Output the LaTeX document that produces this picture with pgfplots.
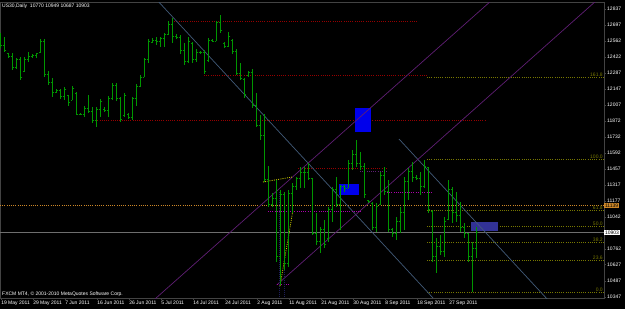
\documentclass[border=0pt]{standalone}
\usepackage{pgfplots}
\pgfplotsset{compat=1.18}
\usepackage{pgfplotstable}
\usepackage{fontspec}
\setmainfont{Liberation Sans}
\definecolor{barcol}{RGB}{0,150,0}
\definecolor{reddot}{RGB}{150,0,0}
\definecolor{slate}{RGB}{65,90,120}
\definecolor{purp}{RGB}{95,30,115}
\definecolor{magdot}{RGB}{170,0,170}
\definecolor{yeldot}{RGB}{200,200,0}
\definecolor{fibcol}{RGB}{120,120,0}
\definecolor{orgcol}{RGB}{205,135,40}
\definecolor{pricegray}{RGB}{110,110,110}
\definecolor{mtblue}{RGB}{0,0,235}
\definecolor{dimblue}{RGB}{50,50,150}
\definecolor{navydot}{RGB}{30,30,90}
\newcommand{\tf}{\fontsize{5}{5.5}\selectfont}

\pgfplotstableread{
i o h l c
0 12600 12630 12500 12520
1 12520 12595 12465 12480
2 12457 12457 12413 12430
3 12430 12457 12310 12330
4 12330 12413 12318 12400
5 12400 12422 12223 12250
6 12300 12422 12292 12400
7 12400 12465 12379 12430
8 12430 12448 12413 12440
9 12440 12457 12413 12450
10 12460 12578 12457 12560
11 12560 12578 12249 12270
12 12270 12301 12180 12200
13 12200 12240 12076 12120
14 12120 12145 12111 12130
15 12130 12145 12059 12080
16 12080 12163 12050 12140
17 12090 12093 11998 12030
18 12050 12171 12050 12150
19 12110 12119 11920 11930
20 11930 11938 11920 11925
21 11925 11998 11903 11980
22 11980 12093 11938 11950
23 11950 11990 11851 11870
24 11870 11990 11817 11970
25 11970 12059 11903 12040
26 11970 11990 11946 11960
27 11960 12085 11903 12060
28 12060 12197 12050 12180
29 12180 12197 12042 12060
30 12060 12076 11860 11880
31 11920 12111 11903 12090
32 11930 11938 11886 11900
33 11900 12076 11877 12060
34 12060 12189 11998 12170
35 12170 12266 12163 12250
36 12250 12413 12249 12400
37 12400 12578 12370 12560
38 12550 12586 12543 12570
39 12570 12595 12526 12560
40 12560 12595 12508 12580
41 12580 12630 12508 12620
42 12620 12733 12612 12700
43 12700 12759 12543 12600
44 12600 12621 12578 12590
45 12590 12612 12448 12480
46 12480 12543 12353 12380
47 12380 12595 12370 12560
48 12540 12552 12370 12400
49 12400 12491 12379 12460
50 12460 12474 12448 12460
51 12460 12482 12275 12300
52 12390 12586 12379 12570
53 12570 12578 12552 12560
54 12560 12733 12560 12720
55 12720 12785 12630 12650
56 12540 12552 12500 12510
57 12510 12638 12508 12600
58 12570 12578 12448 12470
59 12470 12491 12266 12280
60 12280 12370 12223 12240
61 12230 12240 12067 12100
62 12260 12301 12249 12290
63 12290 12318 11981 12000
64 12000 12111 11817 11830
65 11830 11920 11704 11740
66 11740 11929 11341 11360
67 11360 11480 11125 11150
68 11150 11246 11125 11200
69 11200 11358 10650 10700
70 10700 11272 10451 11230
71 11230 11255 10580 10640
72 10640 11272 10606 11240
73 11240 11333 11073 11300
74 11300 11385 11272 11370
75 11370 11471 11289 11420
76 11420 11471 11289 11420
77 11420 11505 11358 11370
78 11370 11376 10883 10900
79 10900 11073 10797 10830
80 10830 10952 10727 10930
81 10930 11013 10771 10800
82 10850 11125 10823 11100
83 11100 11298 10995 11280
84 11280 11385 11125 11150
85 11150 11315 10926 11300
86 11300 11315 11255 11290
87 11290 11531 11289 11500
88 11500 11618 11445 11580
89 11580 11704 11471 11500
90 11500 11601 11445 11480
91 11480 11505 11203 11230
92 11180 11186 11160 11170
93 11160 11168 10926 10950
94 10950 11160 10909 11130
95 11150 11428 11142 11400
96 11400 11471 11229 11260
97 11260 11358 10909 10930
98 10930 10944 10866 10900
99 10900 11039 10840 11000
100 11000 11125 10900 11080
101 11080 11385 10926 11350
102 11350 11462 11186 11430
103 11430 11514 11341 11380
104 11380 11402 11358 11370
105 11370 11428 11229 11300
106 11300 11531 11289 11480
107 11470 11471 11073 11100
108 11090 11099 10650 10700
109 10700 10857 10554 10780
110 10780 10883 10710 10740
111 10740 11039 10693 11000
112 11020 11358 11013 11280
113 11280 11298 10987 11080
114 11080 11255 10995 11050
115 11050 11168 10909 10950
116 10950 10987 10857 10900
117 10900 10900 10650 10700
118 10700 10823 10390 10770
119 10770 10949 10687 10903
}\bars

\begin{document}
\begin{tikzpicture}[x=1pt,y=1pt]
\fill[black] (0pt,0pt) rectangle (625pt,309pt);
\path[use as bounding box] (0pt,0pt) rectangle (625pt,309pt);
\begin{axis}[
  at={(0pt,11pt)}, anchor=south west,
  width=604pt, height=296pt, scale only axis,
  xmin=-0.2, xmax=150.8, ymin=10338, ymax=12898,
  clip mode=individual,
  axis line style={pricegray!130},
  xtick pos=bottom, ytick pos=right,
  tick align=outside, major tick length=2pt,
  tick style={pricegray!130},
  xtick={0,8,...,112},
  xticklabels={19 May 2011,29 May 2011,7 Jun 2011,16 Jun 2011,26 Jun 2011,5 Jul 2011,14 Jul 2011,24 Jul 2011,2 Aug 2011,11 Aug 2011,21 Aug 2011,30 Aug 2011,8 Sep 2011,18 Sep 2011,27 Sep 2011},
  xticklabel style={font=\tf, text=white, anchor=north west, inner sep=0pt, xshift=0.3pt, yshift=-0.5pt},
  ytick={10347,10487,10627,10762,11042,11177,11317,11457,11592,11732,11872,12007,12147,12287,12422,12562,12697,12837},
  yticklabels={10347,10487,10627,10762,11042,11177,11317,11457,11592,11732,11872,12007,12147,12287,12422,12562,12697,12837},
  yticklabel style={font=\tf, text=white, anchor=west, inner sep=0pt, xshift=1pt},
]
% horizontal full-width lines
\addplot[orgcol, line width=0.7pt, dash pattern=on 1pt off 1.2pt] coordinates {(-0.2,11139) (150.8,11139)};
\addplot[pricegray, line width=0.8pt] coordinates {(-0.2,10903) (150.8,10903)};
% red dotted levels
\addplot[reddot, line width=0.8pt, dash pattern=on 1pt off 1.2pt] coordinates {(42.8,12733) (104.3,12733)};
\addplot[reddot, line width=0.8pt, dash pattern=on 1pt off 1.2pt] coordinates {(50.8,12266) (106.8,12266)};
\addplot[reddot, line width=0.8pt, dash pattern=on 1pt off 1.2pt] coordinates {(23.05,11873) (121.05,11873)};
\addplot[reddot, line width=0.8pt, dash pattern=on 1pt off 1.2pt] coordinates {(74.3,11462) (96.55,11462)};
% fibonacci levels
\addplot[fibcol, line width=0.7pt, dash pattern=on 1pt off 1.2pt] coordinates {(106.55,12249) (150.8,12249)};
\addplot[fibcol, line width=0.7pt, dash pattern=on 1pt off 1.2pt] coordinates {(106.55,11540) (150.8,11540)};
\addplot[fibcol, line width=0.7pt, dash pattern=on 1pt off 1.2pt] coordinates {(106.55,11099) (150.8,11099)};
\addplot[fibcol, line width=0.7pt, dash pattern=on 1pt off 1.2pt] coordinates {(106.55,10961) (150.8,10961)};
\addplot[fibcol, line width=0.7pt, dash pattern=on 1pt off 1.2pt] coordinates {(106.55,10822) (150.8,10822)};
\addplot[fibcol, line width=0.7pt, dash pattern=on 1pt off 1.2pt] coordinates {(106.55,10662) (150.8,10662)};
\addplot[fibcol, line width=0.7pt, dash pattern=on 1pt off 1.2pt] coordinates {(106.55,10390) (150.8,10390)};
% rectangles
\addplot[fill=mtblue, draw=none] coordinates {(88.55,11981) (92.55,11981) (92.55,11774) (88.55,11774)};
\addplot[fill=mtblue, draw=none] coordinates {(84.55,11324) (89.55,11324) (89.55,11229) (84.55,11229)};
\addplot[fill=dimblue, draw=none] coordinates {(117.55,10995) (124.3,10995) (124.3,10917) (117.55,10917)};
% diagonal channel lines
\addplot[slate, line width=0.7pt] coordinates {(39.05,12914.8) (108.05,10338.3)};
\addplot[slate, line width=0.7pt] coordinates {(99.55,11713) (136.8,10321)};
\addplot[purp, line width=0.7pt] coordinates {(38.55,10329.6) (122.8,12914.8)};
\addplot[purp, line width=0.7pt] coordinates {(68.98,10450.7) (149.05,12914.8)};
% magenta dotted levels
\addplot[magdot, line width=0.8pt, dash pattern=on 1pt off 1.2pt] coordinates {(66.8,11090) (90.3,11090)};
\addplot[magdot, line width=0.8pt, dash pattern=on 1pt off 1.2pt] coordinates {(96.55,11250) (108.05,11250)};
\addplot[magdot, line width=0.8pt, dash pattern=on 1pt off 1.2pt] coordinates {(69.05,10459) (72.3,10459)};
\addplot[purp, line width=0.8pt, dash pattern=on 1pt off 1.2pt] coordinates {(89.8,11436) (96.55,11436)};
% yellow dotted lines
\addplot[yeldot, line width=0.8pt, dash pattern=on 1pt off 1.2pt] coordinates {(65.55,11341) (72.8,11384)};
\addplot[yeldot, line width=0.8pt, dash pattern=on 1pt off 1.2pt] coordinates {(69.8,10442) (73.05,11099)};
% navy dotted verticals
\addplot[navydot, line width=0.7pt, dash pattern=on 1pt off 1pt] coordinates {(69.55,11255) (69.55,10347)};
\addplot[navydot, line width=0.7pt, dash pattern=on 1pt off 1pt] coordinates {(70.8,11255) (70.8,10347)};
% OHLC bars: high-low
\addplot[draw=none, mark=none,
  error bars/.cd, y dir=both, y explicit, error mark=none,
  error bar style={draw=barcol, solid, line width=1pt}]
  table[x=i, y expr={(\thisrow{h}+\thisrow{l})/2},
        y error plus expr={(\thisrow{h}-\thisrow{l})/2},
        y error minus expr={(\thisrow{h}-\thisrow{l})/2}] {\bars};
% open and close ticks
\addplot[barcol, only marks, mark=-, mark size=0.55pt, line width=0.8pt, mark options={xshift=-1.0pt}] table[x=i, y=o] {\bars};
\addplot[barcol, only marks, mark=-, mark size=0.55pt, line width=0.8pt, mark options={xshift=1.0pt}] table[x=i, y=c] {\bars};
% fib labels
\node[font=\tf, text=fibcol, anchor=south east, inner sep=0.3pt] at (axis cs:150.6,12249) {161.8};
\node[font=\tf, text=fibcol, anchor=south east, inner sep=0.3pt] at (axis cs:150.6,11540) {100.0};
\node[font=\tf, text=fibcol, anchor=south east, inner sep=0.3pt] at (axis cs:150.6,11099) {61.8};
\node[font=\tf, text=fibcol, anchor=south east, inner sep=0.3pt] at (axis cs:150.6,10961) {50.0};
\node[font=\tf, text=fibcol, anchor=south east, inner sep=0.3pt] at (axis cs:150.6,10822) {38.2};
\node[font=\tf, text=fibcol, anchor=south east, inner sep=0.3pt] at (axis cs:150.6,10662) {23.6};
\node[font=\tf, text=fibcol, anchor=south east, inner sep=0.3pt] at (axis cs:150.6,10390) {0.0};
% price boxes
\node[font=\tf, text=black, fill=orgcol, anchor=west, inner sep=0.8pt] at (axis cs:150.8,11139) {11139};
\node[font=\tf, text=black, fill=white, anchor=west, inner sep=0.8pt] at (axis cs:150.8,10903) {10903};
% header / footer texts
\node[font=\tf, text=white, anchor=north west, inner sep=0pt] at ([xshift=2pt,yshift=-2pt]rel axis cs:0,1) {US30,Daily\ \ 10770 10949 10687 10903};
\node[font=\tf, text=white, anchor=south west, inner sep=0pt] at ([xshift=2pt,yshift=1pt]rel axis cs:0,0) {FXCM MT4, © 2001-2010 MetaQuotes Software Corp.};
\end{axis}
\end{tikzpicture}
\end{document}
